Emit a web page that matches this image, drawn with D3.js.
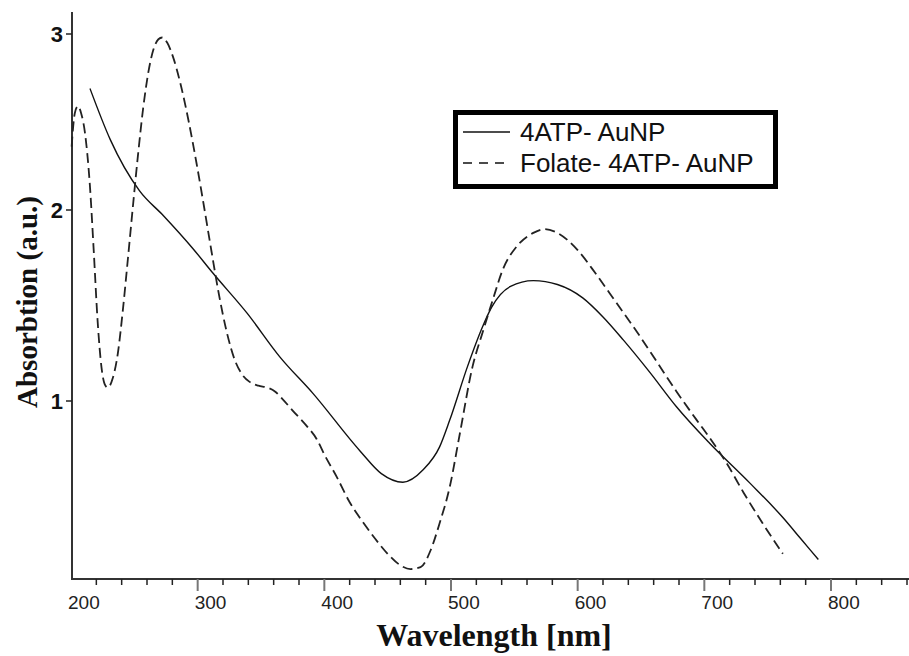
<!DOCTYPE html>
<html lang="en">
<head>
    <meta charset="UTF-8">
    <title>Absorbtion spectra</title>
    <script src="https://d3js.org/d3.v7.min.js"></script>
    <style>
        body { margin: 0; background: #fff; }
        svg { display: block; }
    </style>
</head>
<body>
    <div id="chart"></div>
    <script>
        // series: 4ATP-AuNP (solid)
        const wlSolid = [215, 231, 254, 273, 296, 312, 339, 365, 391, 428, 445, 462, 478, 491, 499,
            513, 525, 532, 547, 565, 584, 604, 620, 636, 657, 678, 704, 736, 762, 776, 790];
        const absSolid = [2.69, 2.40, 2.11, 1.97, 1.80, 1.67, 1.46, 1.23, 1.04, 0.74, 0.62, 0.575, 0.64, 0.76, 0.90,
            1.18, 1.39, 1.49, 1.60, 1.63, 1.61, 1.54, 1.44, 1.32, 1.15, 0.97, 0.78, 0.57, 0.39, 0.28, 0.17];

        // series: Folate-4ATP-AuNP (dashed)
        const wlDash = [200.5, 203, 205.5, 208, 211, 215, 218, 221, 224, 226.5, 229, 233, 237, 241, 245,
            249, 253, 257, 261, 265, 269, 272, 276, 281, 287, 293, 299, 305, 311, 317, 323, 329, 335, 341,
            348, 355, 361, 367, 375, 386, 394, 400, 410, 420, 430, 440, 450, 460, 468, 476, 484, 491, 499,
            507, 517, 525, 533, 541, 552, 565, 574, 584, 600, 615, 631, 647, 663, 678, 694, 705, 718, 731, 746, 762];
        const absDash = [2.36, 2.55, 2.59, 2.55, 2.44, 2.13, 1.78, 1.42, 1.18, 1.09, 1.07, 1.12, 1.25, 1.48, 1.75,
            2.03, 2.32, 2.58, 2.78, 2.91, 2.97, 2.98, 2.95, 2.86, 2.70, 2.50, 2.27, 2.02, 1.78, 1.55, 1.36, 1.22, 1.14, 1.10,
            1.08, 1.07, 1.05, 1.01, 0.95, 0.87, 0.80, 0.72, 0.60, 0.47, 0.37, 0.28, 0.20, 0.14, 0.12, 0.13, 0.22, 0.36, 0.55,
            0.83, 1.18, 1.36, 1.53, 1.69, 1.81, 1.88, 1.90, 1.88, 1.79, 1.66, 1.51, 1.36, 1.20, 1.05, 0.90, 0.80, 0.67, 0.52, 0.36, 0.20];

        const xTickLabels = [200, 300, 400, 500, 600, 700, 800];
        const yTickLabels = [1, 2, 3];
        const legendNames = ["4ATP- AuNP", "Folate- 4ATP- AuNP"];

        const W = 909, H = 656;
        const axisX = 72, axisY = 579;

        const svg = d3.select("#chart").append("svg")
            .attr("width", W)
            .attr("height", H);

        // scales (y is piecewise to follow the scanned tick spacing)
        const x = d3.scaleLinear().domain([200, 800]).range([71, 831]);
        const y = d3.scaleLinear().domain([1, 2, 3]).range([401, 210, 34]);

        // x axis line + ticks
        svg.append("line")
            .attr("x1", axisX).attr("x2", W)
            .attr("y1", axisY).attr("y2", axisY)
            .attr("stroke", "#333").attr("stroke-width", 2);

        const minor = d3.range(220, 861, 20).filter(d => d % 100 !== 0);
        svg.selectAll(".minor").data(minor).join("line")
            .attr("x1", d => x(d)).attr("x2", d => x(d))
            .attr("y1", axisY).attr("y2", axisY + 6)
            .attr("stroke", "#222").attr("stroke-width", 1.5);

        svg.selectAll(".major").data(xTickLabels.filter(d => d > 200)).join("line")
            .attr("x1", d => x(d)).attr("x2", d => x(d))
            .attr("y1", axisY).attr("y2", axisY + 12)
            .attr("stroke", "#777").attr("stroke-width", 2);

        svg.selectAll(".xlab").data(xTickLabels).join("text")
            .attr("x", d => x(d) - 3)
            .attr("y", 609)
            .attr("font-family", "Liberation Sans, Arial, sans-serif")
            .attr("font-size", "19px")
            .attr("fill", "#222")
            .text(d => d);

        // y axis line + ticks
        svg.append("line")
            .attr("x1", axisX).attr("x2", axisX)
            .attr("y1", 12).attr("y2", axisY + 1)
            .attr("stroke", "#333").attr("stroke-width", 2);

        svg.selectAll(".ytick").data(yTickLabels).join("line")
            .attr("x1", axisX - 6).attr("x2", axisX)
            .attr("y1", d => y(d)).attr("y2", d => y(d))
            .attr("stroke", "#222").attr("stroke-width", 1.5);

        svg.selectAll(".ylab").data(yTickLabels).join("text")
            .attr("x", 63)
            .attr("y", d => y(d) + 8)
            .attr("text-anchor", "end")
            .attr("font-family", "Liberation Sans, Arial, sans-serif")
            .attr("font-weight", "bold")
            .attr("font-size", "22px")
            .attr("fill", "#111")
            .text(d => d);

        // axis titles
        svg.append("text")
            .attr("x", 494).attr("y", 646)
            .attr("text-anchor", "middle")
            .attr("font-family", "Liberation Serif, Times New Roman, serif")
            .attr("font-weight", "bold")
            .attr("font-size", "32px")
            .attr("fill", "#111")
            .text("Wavelength [nm]");

        svg.append("text")
            .attr("transform", "translate(37,302) rotate(-90)")
            .attr("text-anchor", "middle")
            .attr("font-family", "Liberation Serif, Times New Roman, serif")
            .attr("font-weight", "bold")
            .attr("font-size", "29px")
            .attr("fill", "#111")
            .text("Absorbtion (a.u.)");

        // curves
        const line = d3.line()
            .x(d => x(d[0]))
            .y(d => y(d[1]))
            .curve(d3.curveMonotoneX);

        svg.append("path")
            .datum(d3.zip(wlSolid, absSolid))
            .attr("d", line)
            .attr("fill", "none")
            .attr("stroke", "#111")
            .attr("stroke-width", 1.4);

        svg.append("path")
            .datum(d3.zip(wlDash, absDash))
            .attr("d", line)
            .attr("fill", "none")
            .attr("stroke", "#222")
            .attr("stroke-width", 1.8)
            .attr("stroke-dasharray", "10,5");

        // legend
        const lg = svg.append("g");
        lg.append("rect")
            .attr("x", 455.5).attr("y", 112.5)
            .attr("width", 320).attr("height", 74)
            .attr("fill", "#fff")
            .attr("stroke", "#000")
            .attr("stroke-width", 5);

        legendNames.forEach((name, i) => {
            const ly = 132 + i * 31;
            lg.append("line")
                .attr("x1", 463).attr("x2", 510)
                .attr("y1", ly).attr("y2", ly)
                .attr("stroke", "#111")
                .attr("stroke-width", 1.6)
                .attr("stroke-dasharray", i === 1 ? "9,7" : null);
            lg.append("text")
                .attr("x", 520).attr("y", ly + 9)
                .attr("font-family", "Liberation Sans, Arial, sans-serif")
                .attr("font-size", "26px")
                .attr("fill", "#111")
                .text(name);
        });
    </script>
</body>
</html>
